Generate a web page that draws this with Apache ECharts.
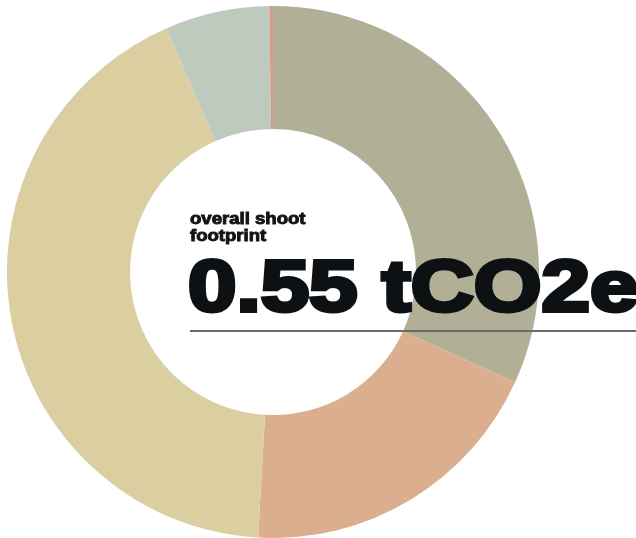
<!DOCTYPE html>
<html>
<head>
<meta charset="utf-8">
<script src="https://cdn.jsdelivr.net/npm/echarts@6/dist/echarts.min.js"></script>
<style>
html,body{margin:0;padding:0;background:#fff;}
#chart{width:636px;height:538px;}
</style>
</head>
<body>
<div id="chart"></div>
<script>
const categories = ['Category A', 'Category B', 'Category C', 'Category D', 'Category E'];
const values = [0.175, 0.105, 0.234, 0.035, 0.0012];
const colors = ['#b1af96', '#dbae90', '#dbcea0', '#bfcabf', '#d49b8b'];
const subtitleLines = ['overall shoot', 'footprint'];
const totalLabel = '0.55 tCO2e';

const chart = echarts.init(document.getElementById('chart'), null, {renderer: 'canvas'});
chart.setOption({
  animation: false,
  backgroundColor: '#ffffff',
  series: [{
    type: 'pie',
    center: [273, 272],
    radius: [143, 266],
    startAngle: 90,
    clockwise: true,
    label: {show: false},
    labelLine: {show: false},
    emphasis: {disabled: true},
    itemStyle: {borderWidth: 0},
    data: categories.map((c, i) => ({name: c, value: values[i], itemStyle: {color: colors[i]}}))
  }],
  graphic: [
    {type: 'text', x: 190, y: 212, scaleX: 1.16, z: 10,
     style: {text: subtitleLines[0], fill: '#111417', font: 'bold 16px "Liberation Sans", Arial, sans-serif', stroke: '#111417', lineWidth: 0.9}},
    {type: 'text', x: 190, y: 229, scaleX: 1.16, z: 10,
     style: {text: subtitleLines[1], fill: '#111417', font: 'bold 16px "Liberation Sans", Arial, sans-serif', stroke: '#111417', lineWidth: 0.9}},
    {type: 'text', x: 188, y: 255, scaleX: 1.21, z: 10,
     style: {text: totalLabel, fill: '#0d1114', font: 'bold 72px "Liberation Sans", Arial, sans-serif', stroke: '#0d1114', lineWidth: 4}},
    {type: 'line', z: 10,
     shape: {x1: 190, y1: 331, x2: 636, y2: 331},
     style: {stroke: '#6a6a6a', lineWidth: 2}}
  ]
});
</script>
</body>
</html>
